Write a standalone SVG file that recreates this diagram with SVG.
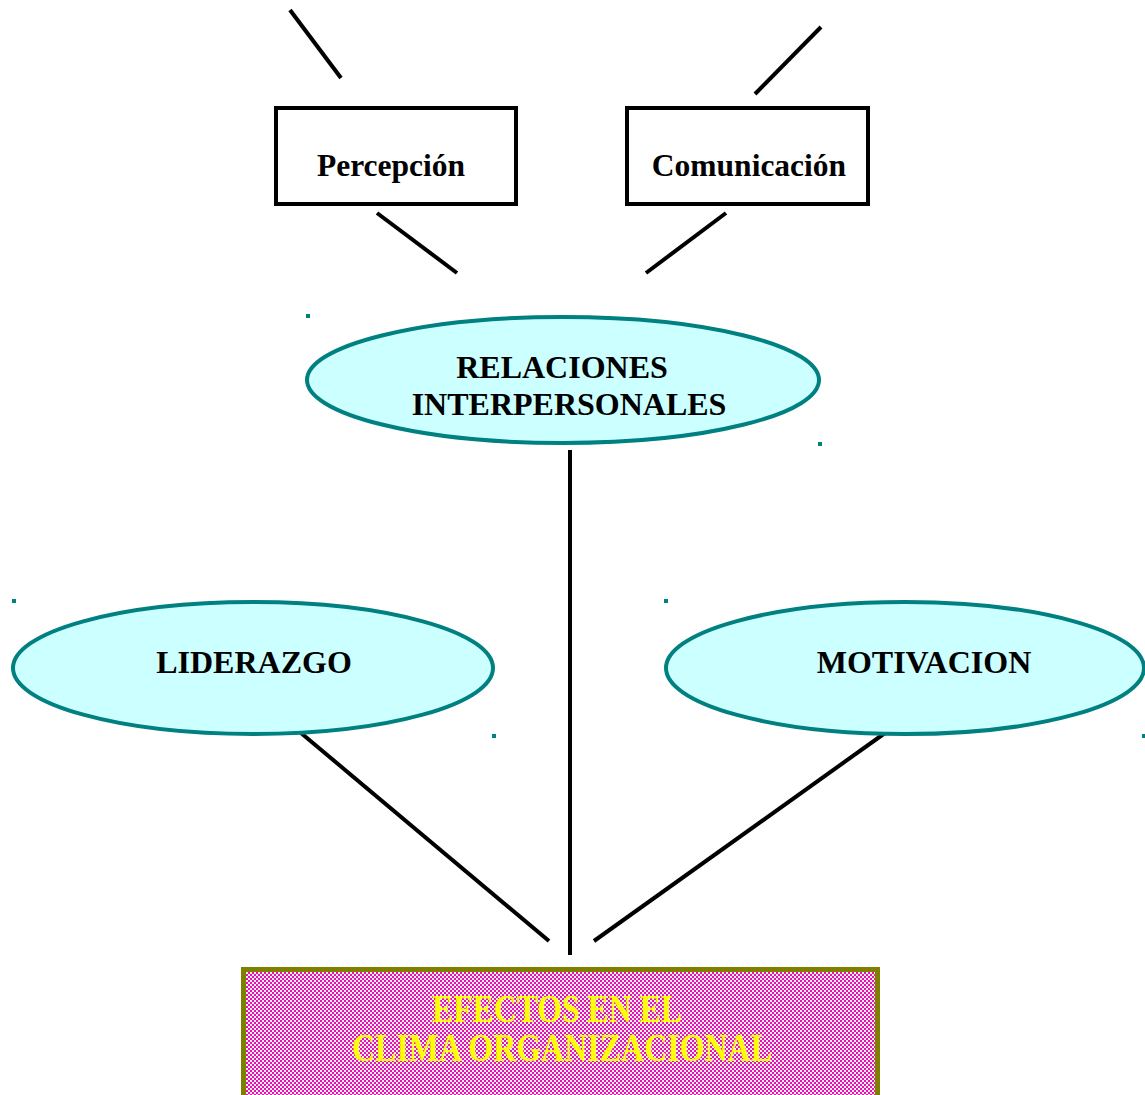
<svg xmlns="http://www.w3.org/2000/svg" width="1145" height="1095" viewBox="0 0 1145 1095">
<style>
.box{fill:#fff;stroke:#000;stroke-width:4}
.ell{fill:#CCFFFF;stroke:#008080;stroke-width:4}
.t{font-family:"Liberation Serif","Times New Roman",serif;font-weight:bold;text-anchor:middle}
.conn line{stroke:#000;stroke-width:4}
.dot{fill:#008080}
</style>
<defs>
<pattern id="chk" x="0" y="0" width="4" height="4" patternUnits="userSpaceOnUse">
<rect width="4" height="4" fill="#CCFFCC"/>
<rect width="2" height="2" fill="#FF00CC"/>
<rect x="2" y="2" width="2" height="2" fill="#FF00CC"/>
</pattern>
</defs>
<g id="connectors" class="conn">
<line x1="290" y1="10" x2="341" y2="78"/>
<line x1="377" y1="213" x2="457" y2="273"/>
<line x1="821" y1="27" x2="755" y2="94"/>
<line x1="726" y1="213" x2="646" y2="273"/>
<line x1="570" y1="450" x2="570" y2="955"/>
<line x1="301" y1="733" x2="549" y2="941"/>
<line x1="885" y1="733" x2="594" y2="941"/>
</g>
<g id="percepcion">
<rect class="box" x="276" y="108" width="240" height="96"/>
<text class="t" x="391" y="176" font-size="31.5">Percepción</text>
</g>
<g id="comunicacion">
<rect class="box" x="627" y="108" width="241" height="96"/>
<text class="t" x="749" y="176" font-size="31.5">Comunicación</text>
</g>
<g id="relaciones">
<ellipse class="ell" cx="563" cy="380" rx="256" ry="63"/>
<text class="t" x="562" y="378" font-size="32">RELACIONES</text>
<text class="t" x="569" y="415" font-size="32">INTERPERSONALES</text>
</g>
<g id="liderazgo">
<ellipse class="ell" cx="253" cy="668" rx="240" ry="66"/>
<text class="t" x="254" y="673" font-size="32">LIDERAZGO</text>
</g>
<g id="motivacion">
<ellipse class="ell" cx="905" cy="668" rx="239" ry="66"/>
<text class="t" x="924" y="673" font-size="32">MOTIVACION</text>
</g>
<g id="efectos">
<rect x="243.5" y="969.5" width="634" height="140" fill="url(#chk)" stroke="#808000" stroke-width="5"/>
<text class="t" x="557" y="1022" font-size="39" fill="#FFFF00" textLength="250" lengthAdjust="spacingAndGlyphs">EFECTOS EN EL</text>
<text class="t" x="562" y="1061" font-size="39" fill="#FFFF00" textLength="420" lengthAdjust="spacingAndGlyphs">CLIMA ORGANIZACIONAL</text>
</g>
<g id="dots">
<rect class="dot" x="306" y="314" width="4" height="4"/>
<rect class="dot" x="818" y="442" width="4" height="4"/>
<rect class="dot" x="12" y="599" width="4" height="4"/>
<rect class="dot" x="492" y="734" width="4" height="4"/>
<rect class="dot" x="664" y="599" width="4" height="4"/>
<rect class="dot" x="1142" y="734" width="3" height="4"/>
</g>
</svg>
